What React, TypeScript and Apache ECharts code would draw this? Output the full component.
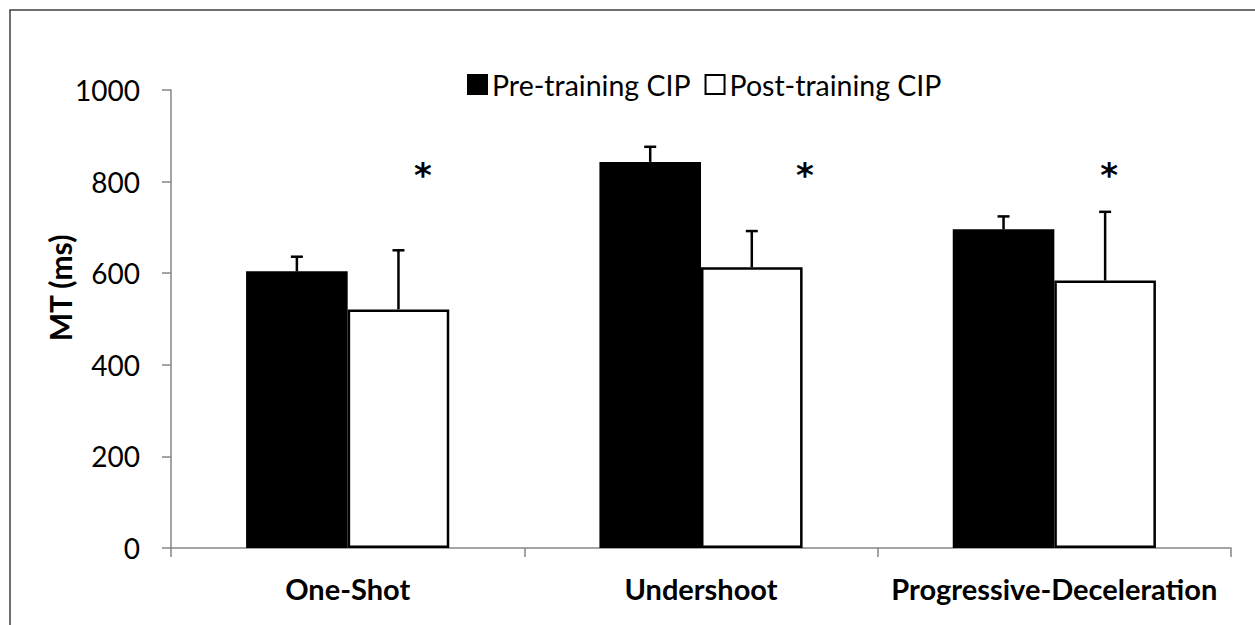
import React, { useEffect, useRef } from "react";
import * as echarts from "echarts";

const categories = ["One-Shot", "Undershoot", "Progressive-Deceleration"];
const preValues = [604, 843, 696];
const preErrors = [32, 33, 28];
const postValues = [521, 613, 584];
const postErrors = [129, 79, 150];
const yTicks = [0, 200, 400, 600, 800, 1000];
const asteriskX = [0.713, 1.794, 2.655];
const asteriskY = [815, 815, 815];
const seriesNames = ["Pre-training CIP", "Post-training CIP"];

const FONT = "Lato, 'Open Sans', sans-serif";
const GAP = 0.425;

function errorRender(side: number) {
  return (params: any, api: any) => {
    const idx = api.value(0);
    const val = api.value(1);
    const err = api.value(2);
    const base = api.coord([idx, val]);
    const top = api.coord([idx, val + err]);
    const band = api.size([1, 0])[0];
    const bw = (band * (1 - GAP)) / 2;
    const x = base[0] + (side * bw) / 2;
    const style = { stroke: "#000", lineWidth: 2.5 };
    return {
      type: "group",
      children: [
        { type: "line", shape: { x1: x, y1: base[1], x2: x, y2: top[1] }, style },
        { type: "line", shape: { x1: x - 6, y1: top[1], x2: x + 6, y2: top[1] }, style },
      ],
    };
  };
}

function asteriskRender(params: any, api: any) {
  const p = api.coord([api.value(0), api.value(1)]);
  return {
    type: "text",
    x: p[0],
    y: p[1],
    style: {
      text: "*",
      fontFamily: "'DejaVu Sans', sans-serif",
      fontWeight: "bold",
      fontSize: 34,
      fill: "#000",
      textAlign: "center",
      textVerticalAlign: "middle",
    },
  };
}

export default function App() {
  const ref = useRef<HTMLDivElement>(null);
  useEffect(() => {
    if (!ref.current) return;
    const chart = echarts.init(ref.current, null, { renderer: "svg" });
    chart.setOption({
      animation: false,
      backgroundColor: "#fff",
      textStyle: { fontFamily: FONT },
      grid: { left: 171, right: 24, top: 90, bottom: 77 },
      legend: {
        data: seriesNames,
        left: 462,
        top: 65,
        icon: "rect",
        itemWidth: 19,
        itemHeight: 19,
        itemGap: 14,
        textStyle: { fontFamily: FONT, fontSize: 28.5, color: "#000" },
      },
      xAxis: [
        {
          type: "category",
          data: categories,
          axisLine: { lineStyle: { color: "#868686", width: 1.5 } },
          axisTick: { show: true, alignWithLabel: false, length: 9, lineStyle: { color: "#868686", width: 1.5 } },
          axisLabel: { interval: 0, fontFamily: FONT, fontSize: 29, fontWeight: "bold", color: "#000", margin: 26 },
        },
        { type: "value", min: 0, max: 3, show: false },
      ],
      yAxis: {
        type: "value",
        min: yTicks[0],
        max: yTicks[yTicks.length - 1],
        interval: 200,
        splitLine: { show: false },
        axisLine: { show: true, lineStyle: { color: "#868686", width: 1.5 } },
        axisTick: { show: true, length: 9, lineStyle: { color: "#868686", width: 1.5 } },
        axisLabel: { fontFamily: FONT, fontSize: 28, color: "#000", margin: 31, formatter: (v: number) => String(v) },
      },
      graphic: [
        {
          type: "rect",
          shape: { x: 10, y: 10, width: 1400, height: 800 },
          style: { fill: "none", stroke: "#404040", lineWidth: 1.5 },
          silent: true,
        },
        {
          type: "text",
          x: 60,
          y: 288,
          rotation: Math.PI / 2,
          style: {
            text: "MT (ms)",
            fontFamily: FONT,
            fontSize: 30,
            fontWeight: "bold",
            fill: "#000",
            textAlign: "center",
            textVerticalAlign: "middle",
          },
        },
      ],
      series: [
        {
          name: seriesNames[0],
          type: "bar",
          data: preValues,
          barGap: "0%",
          barCategoryGap: GAP * 100 + "%",
          itemStyle: { color: "#000", borderColor: "#000", borderWidth: 2 },
        },
        {
          name: seriesNames[1],
          type: "bar",
          data: postValues,
          barGap: "0%",
          barCategoryGap: GAP * 100 + "%",
          itemStyle: { color: "#fff", borderColor: "#000", borderWidth: 2.5 },
        },
        {
          type: "custom",
          renderItem: errorRender(-1),
          data: preValues.map((v, i) => [i, v, preErrors[i]]),
          z: 5,
        },
        {
          type: "custom",
          renderItem: errorRender(1),
          data: postValues.map((v, i) => [i, v, postErrors[i]]),
          z: 5,
        },
        {
          type: "custom",
          xAxisIndex: 1,
          renderItem: asteriskRender,
          data: asteriskX.map((x, i) => [x, asteriskY[i]]),
          z: 6,
        },
      ],
    });
    return () => chart.dispose();
  }, []);
  return (
    <div
      ref={ref}
      style={{ position: "fixed", left: 0, top: 0, width: 1255, height: 625 }}
    />
  );
}
